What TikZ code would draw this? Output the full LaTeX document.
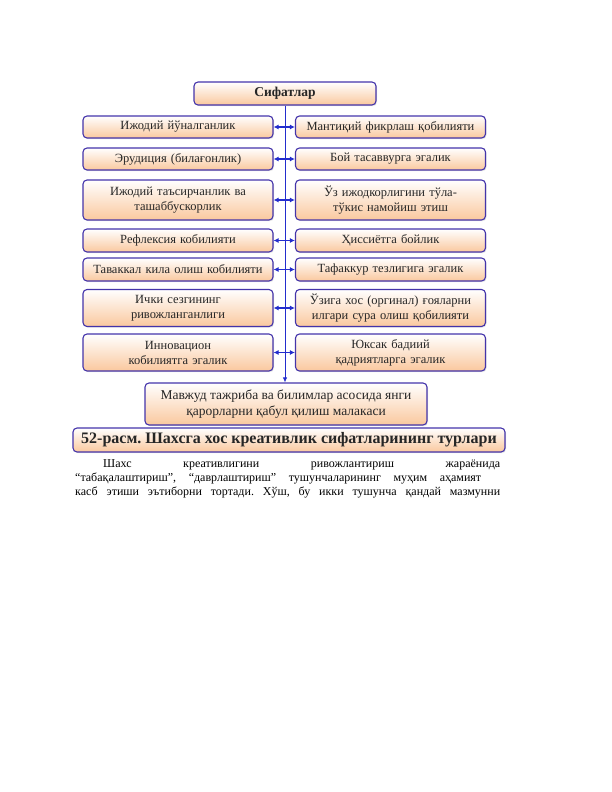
\documentclass[tikz,border=0pt]{standalone}
\usepackage{fontspec}
\setmainfont{Liberation Serif}
\usetikzlibrary{calc, positioning}
\usetikzlibrary{arrows.meta}
\usetikzlibrary{shadows}
\definecolor{frameblue}{RGB}{68,52,170}
\definecolor{peach}{RGB}{250,200,158}
\definecolor{linkblue}{RGB}{35,45,205}
\def\bw{190pt}
\tikzset{
    border/.style = {
        draw=frameblue, rectangle, rounded corners=4pt, line width=1.1pt, align=center,
        top color=white, bottom color=peach, text=black!85, inner sep=1pt,
        drop shadow={opacity=0.2, shadow xshift=1pt, shadow yshift=-1.2pt},
        font=\fontsize{12.5}{15}\selectfont
    },
    sidebox/.style = {
        border, minimum width=\bw, text width=\bw-4pt
    },
    link/.style = {
        linkblue, line width=1.1pt, {Latex[length=5pt,width=5pt]}-{Latex[length=5pt,width=5pt]}
    },
}

\begin{document}
\frenchspacing
\begin{tikzpicture}[x=1pt, y=-1pt]
        \useasboundingbox (0,0) rectangle (612,792);

        % Place the blocks
        \node[border, minimum width=182pt, minimum height=23pt, font=\fontsize{13.5}{15}\selectfont\bfseries] (top) at (285,93.5) {Сифатлар};

        \node[sidebox, minimum height=22pt] (l1) at (178,127) {Ижодий йўналганлик};
        \node[sidebox, minimum height=22pt] (r1) at (390.5,127) {Мантиқий фикрлаш қобилияти};
        \node[sidebox, minimum height=22pt] (l2) at (178,159) {Эрудиция (билағонлик)};
        \node[sidebox, minimum height=22pt] (r2) at (390.5,159) {Бой тасаввурга эгалик};
        \node[sidebox, minimum height=40pt] (l3) at (178,200) {Ижодий таъсирчанлик ва\\ташаббускорлик};
        \node[sidebox, minimum height=40pt] (r3) at (390.5,200) {Ўз ижодкорлигини тўла-\\тўкис намойиш этиш};
        \node[sidebox, minimum height=23pt] (l4) at (178,240.5) {Рефлексия кобилияти};
        \node[sidebox, minimum height=23pt] (r4) at (390.5,240.5) {Ҳиссиётга бойлик};
        \node[sidebox, minimum height=23pt] (l5) at (178,269.5) {Таваккал кила олиш кобилияти};
        \node[sidebox, minimum height=23pt] (r5) at (390.5,269.5) {Тафаккур тезлигига эгалик};
        \node[sidebox, minimum height=37pt] (l6) at (178,308) {Ички сезгининг\\ривожланганлиги};
        \node[sidebox, minimum height=37pt] (r6) at (390.5,308) {Ўзига хос (оргинал) ғояларни\\илгари сура олиш қобилияти};
        \node[sidebox, minimum height=37pt] (l7) at (178,352.5) {Инновацион\\кобилиятга эгалик};
        \node[sidebox, minimum height=37pt] (r7) at (390.5,352.5) {Юксак бадиий\\қадриятларга эгалик};

        \node[border, minimum width=282pt, minimum height=42pt, font=\fontsize{13.5}{15.5}\selectfont] (bottom) at (286,404) {Мавжуд тажриба ва билимлар асосида янги\\қарорларни қабул қилиш малакаси};

        % Draw connections
        \draw[linkblue, thick, -{Latex[length=5pt,width=4.5pt]}] (top.south) -- (top.south |- bottom.north);
        \foreach \i in {1,...,7}{
            \draw[link] (l\i.east) -- (r\i.west);
        }

        % Caption
        \node[border, minimum width=432pt, minimum height=24pt, font=\fontsize{16}{18}\selectfont\bfseries] (caption) at (289,440) {52-расм. Шахсга хос креативлик сифатларининг турлари};

        % Text below
        \node[anchor=north west, inner sep=0pt, align=left, font=\fontsize{12}{14}\selectfont] (para) at (75,459) {%
            \makebox[425pt][s]{\hspace*{28pt}Шахс креативлигини ривожлантириш жараёнида}\\
            \makebox[406pt][s]{“табақалаштириш”, “даврлаштириш” тушунчаларининг муҳим аҳамият}\\
            \makebox[425pt][s]{касб этиши эътиборни тортади. Хўш, бу икки тушунча қандай мазмунни}};
\end{tikzpicture}
\end{document}
